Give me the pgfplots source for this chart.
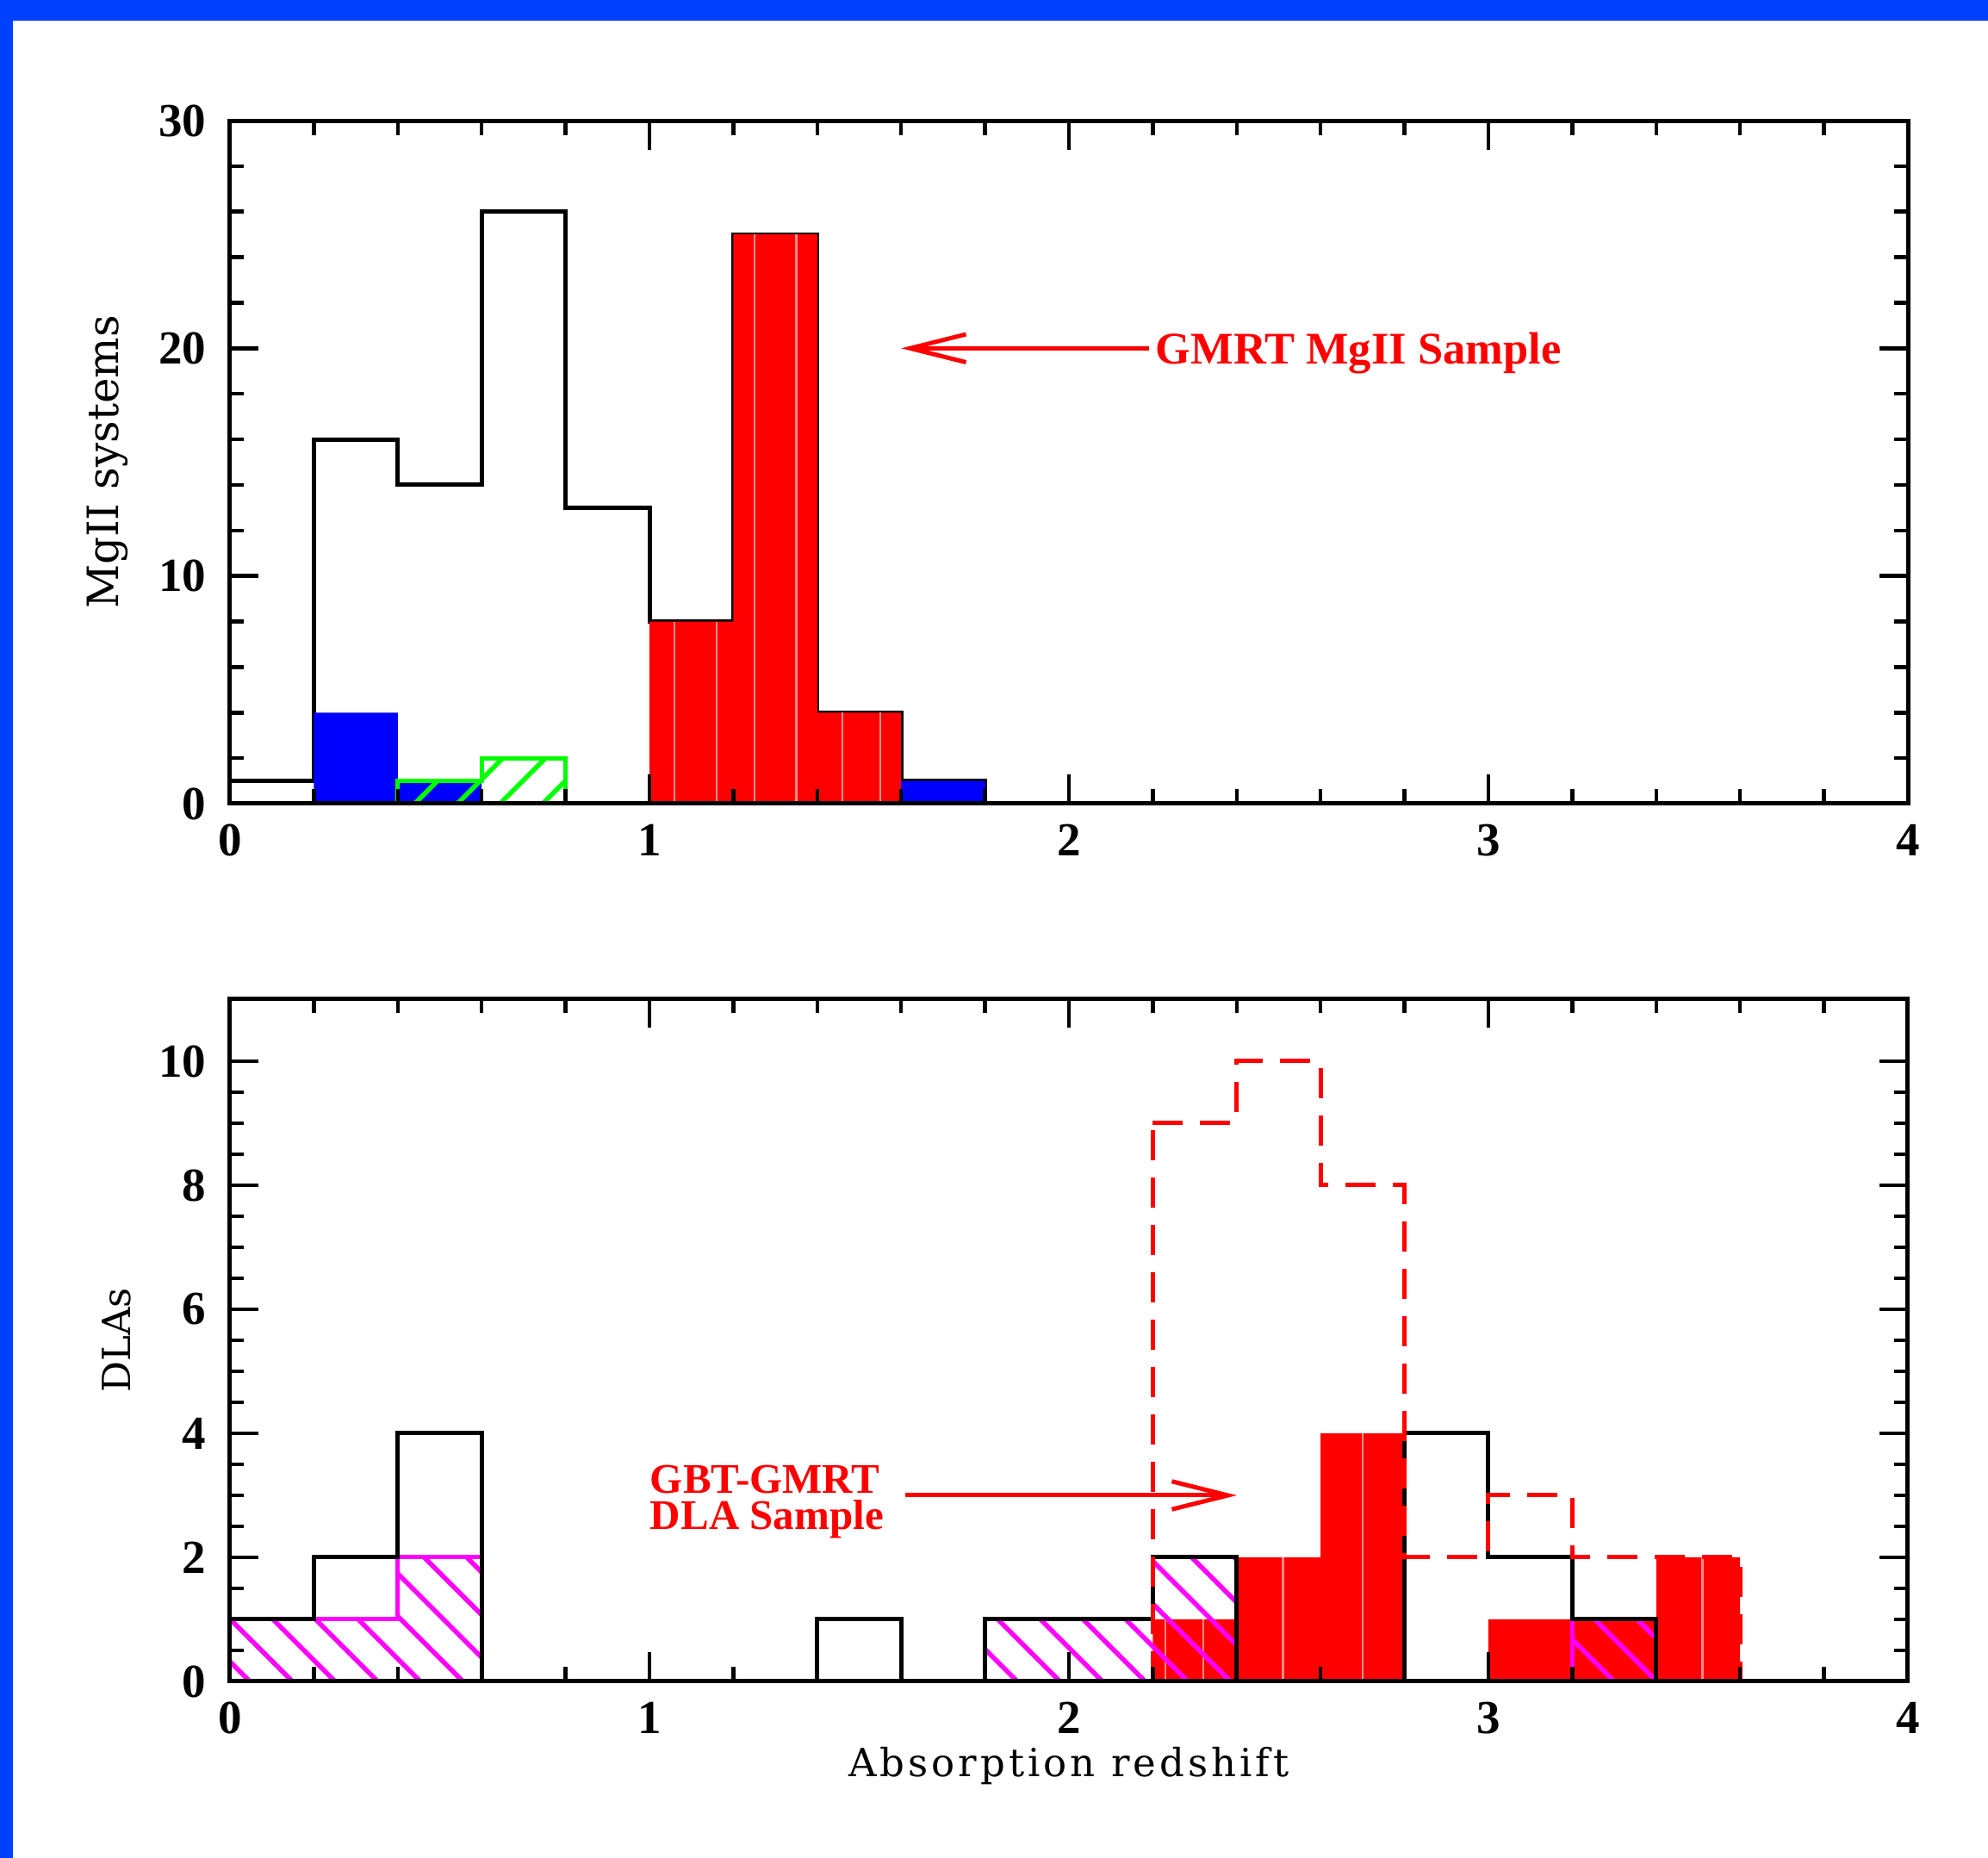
\documentclass[border=0pt]{standalone}
\usepackage{fontspec}
\setmainfont{DejaVu Serif}
\newfontfamily\tickfont{Liberation Serif}
\newfontfamily\annfont{Liberation Serif}
\newfontfamily\xlabfont{DejaVu Serif}[LetterSpace=9]
\usepackage{pgfplots}
\pgfplotsset{compat=1.18}
\usetikzlibrary{patterns.meta,arrows.meta}
\definecolor{frameblue}{RGB}{0,64,255}
\definecolor{hred}{RGB}{255,0,0}
\definecolor{hblue}{RGB}{0,0,255}
\definecolor{hgreen}{RGB}{0,255,0}
\definecolor{hmag}{RGB}{255,0,255}
\definecolor{palered}{RGB}{255,140,140}
\tikzset{
  redarrow/.style={draw=hred, line width=1pt, -{Straight Barb[length=13pt,width=6.5pt,line width=1pt]}},
}
\pgfplotsset{
  hist/.style={
    scale only axis, width=389.6pt,
    xmin=0, xmax=4, xtick={0,1,2,3,4}, minor x tick num=4,
    tick align=inside, major tick length=6.7pt, minor tick length=3.3pt,
    axis line style={line width=1pt},
    tick style={line width=0.9pt, black},
    axis on top,
    ticklabel style={font=\tickfont\bfseries\fontsize{11}{13}\selectfont},
    /pgf/number format/assume math mode=true,
    xticklabel style={yshift=-1.3pt},
    yticklabel style={xshift=-2pt},
    label style={font=\fontsize{9.2}{11}\selectfont},
  },
}
\begin{document}
\begin{tikzpicture}
\useasboundingbox (0,0) rectangle (461.6pt,431.4pt);
\fill[frameblue] (0,0) rectangle (461.6pt,431.4pt);
\fill[white] (3pt,0) rectangle (461.6pt,426.6pt);

% ---------------- top panel ----------------
\begin{axis}[hist,
  at={(53.4pt,244.8pt)}, anchor=south west, height=158.6pt,
  ymin=0, ymax=30, ytick={0,10,20,30}, minor y tick num=4,
  ylabel={MgII systems},
  every axis y label/.style={at={(axis description cs:-0.0729,0.5)}, rotate=90, anchor=center},
]
% all MgII systems (outline)
\addplot[const plot, draw=black, line width=1pt] coordinates {
 (0,1) (0.2,16) (0.4,14) (0.6,26) (0.8,13) (1.0,8) (1.2,25) (1.4,4) (1.6,1) (1.8,0) (4,0)};
% blue filled
\addplot[const plot, fill=hblue, draw=none] coordinates {
 (0.2,4) (0.4,1) (0.6,0) (1.6,1) (1.8,1)} \closedcycle;
% green hatched
\addplot[const plot, draw=hgreen, line width=1pt,
  pattern={Lines[angle=45,distance=7pt,line width=1.1pt]}, pattern color=hgreen] coordinates {
 (0,0) (0.4,1) (0.6,2) (0.8,0) (4,0)} \closedcycle;
% GMRT MgII sample (red filled)
\addplot[const plot, fill=hred, draw=none] coordinates {
 (1.0,8) (1.2,25) (1.4,4) (1.6,4)} \closedcycle;
\addplot[ycomb, draw=palered, line width=0.5pt, no marks] coordinates {
 (1.06,8) (1.16,8) (1.25,25) (1.35,25) (1.46,4) (1.55,4)};
\draw[redarrow] (axis cs:2.19,20) -- (axis cs:1.60,20);
\node[anchor=base west, inner sep=0pt, text=hred, font=\annfont\bfseries\fontsize{10.5}{12}\selectfont]
  at (axis cs:2.205,19.33) {GMRT MgII Sample};
\end{axis}

% ---------------- bottom panel ----------------
\begin{axis}[hist,
  at={(53.4pt,41pt)}, anchor=south west, height=158.4pt,
  ymin=0, ymax=11, ytick={0,2,4,6,8,10}, minor y tick num=3,
  ylabel={DLAs},
  every axis y label/.style={at={(axis description cs:-0.0678,0.5)}, rotate=90, anchor=center, font=\fontsize{9}{11}\selectfont},
  xlabel={Absorption redshift},
  every axis x label/.style={at={(axis description cs:0.5,-0.1237)}, anchor=center, font=\xlabfont\fontsize{9}{11}\selectfont},
]
% GBT-GMRT DLA sample (red filled)
\addplot[const plot, fill=hred, draw=none] coordinates {
 (2.2,1) (2.4,2) (2.6,4) (2.8,0) (3.0,1) (3.2,1) (3.4,2) (3.6,2)} \closedcycle;
\addplot[ycomb, draw=palered, line width=0.5pt, no marks] coordinates {
 (2.23,1) (2.32,1) (2.51,2) (2.70,4) (3.51,2)};
% magenta hatched
\addplot[const plot, draw=hmag, line width=1pt,
  pattern={Lines[angle=-45,distance=7pt,line width=1.1pt]}, pattern color=hmag] coordinates {
 (0,1) (0.2,1) (0.4,2) (0.6,0) (1.8,1) (2.0,1) (2.2,2) (2.4,0) (3.2,1) (3.4,0) (4,0)} \closedcycle;
% all DLAs (outline)
\addplot[const plot, draw=black, line width=1pt] coordinates {
 (0,1) (0.2,2) (0.4,4) (0.6,0) (1.4,1) (1.6,0) (1.8,1) (2.0,1) (2.2,2) (2.4,0) (2.8,4) (3.0,2) (3.2,1) (3.4,0) (4,0)};
% dashed red
\addplot[const plot, draw=hred, line width=1pt, dash pattern=on 7pt off 4pt] coordinates {
 (2.2,9) (2.4,10) (2.6,8) (2.8,2) (3.0,3) (3.2,2) (3.4,2) (3.6,0) (4,0)};
\addplot[draw=hred, line width=1pt, dash pattern=on 7pt off 4pt] coordinates {(2.2,0) (2.2,9)};
\draw[redarrow] (axis cs:1.61,3) -- (axis cs:2.40,3);
\node[anchor=base west, inner sep=0pt, text=hred, font=\annfont\bfseries\fontsize{9.8}{11}\selectfont]
  at (axis cs:1.0,3.03) {GBT-GMRT};
\node[anchor=base west, inner sep=0pt, text=hred, font=\annfont\bfseries\fontsize{9.8}{11}\selectfont]
  at (axis cs:1.0,2.45) {DLA Sample};
\end{axis}
\end{tikzpicture}
\end{document}
